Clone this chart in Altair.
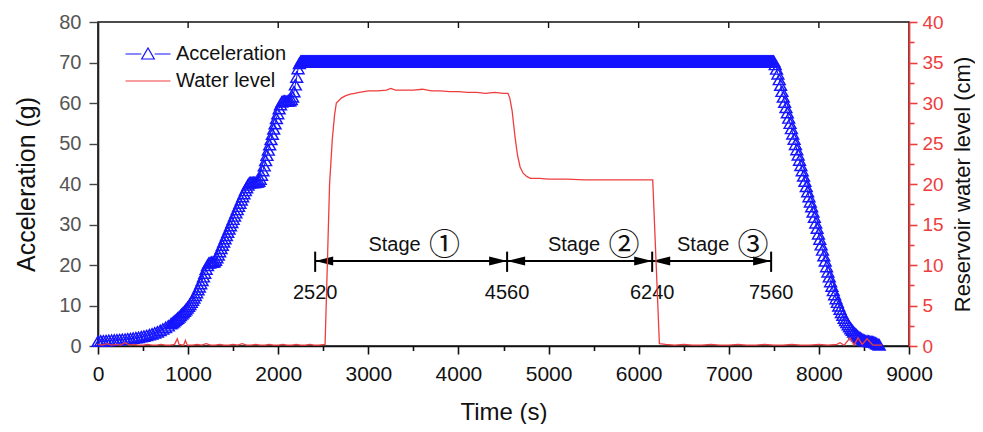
import altair as alt
import pandas as pd

# ---------------- data ----------------
# Acceleration (g), slow start of the spin-up (t, g)
ACC_START = [(0, 1.2), (30, 1.25), (60, 1.3), (90, 1.35), (120, 1.4), (150, 1.45), (180, 1.5),
             (210, 1.55), (240, 1.6), (270, 1.65), (300, 1.7), (330, 1.8), (360, 1.85),
             (390, 1.95), (420, 2.05), (450, 2.15), (480, 2.3), (510, 2.45), (540, 2.6),
             (570, 2.8), (600, 3.0), (630, 3.25), (660, 3.5), (690, 3.85), (720, 4.2),
             (750, 4.6), (780, 5.0), (810, 5.5), (825, 5.75)]
# Acceleration (g), stepped spin-up (t, g)
ACC_RISE = [(840, 6.0), (855, 6.3), (870, 6.6), (885, 6.9), (900, 7.2), (915, 7.55), (930, 7.9),
            (945, 8.25), (960, 8.6), (975, 9.0), (990, 9.4), (1005, 9.85), (1020, 10.3),
            (1035, 10.8), (1050, 11.3), (1065, 11.9), (1080, 12.5), (1095, 13.2), (1110, 13.9),
            (1125, 14.6), (1140, 15.4), (1155, 16.2), (1170, 17.1), (1185, 18.0), (1200, 19.0),
            (1215, 19.9), (1230, 20.5), (1245, 20.6), (1260, 20.7), (1275, 20.7), (1290, 20.8),
            (1305, 21.2), (1320, 21.8), (1335, 22.5), (1350, 23.3), (1365, 24.1), (1380, 24.9),
            (1395, 25.7), (1410, 26.5), (1425, 27.3), (1440, 28.1), (1455, 28.9), (1470, 29.7),
            (1485, 30.5), (1500, 31.3), (1515, 32.1), (1530, 32.9), (1545, 33.7), (1560, 34.5),
            (1575, 35.3), (1590, 36.1), (1605, 36.9), (1620, 37.6), (1635, 38.4), (1650, 39.1),
            (1665, 39.8), (1680, 40.3), (1695, 40.4), (1710, 40.4), (1725, 40.4), (1740, 40.4),
            (1755, 40.5), (1770, 40.5), (1785, 40.7), (1800, 41.2), (1815, 42.2), (1830, 43.3),
            (1845, 44.5), (1860, 45.8), (1875, 47.1), (1890, 48.4), (1905, 49.7), (1920, 51.0),
            (1935, 52.3), (1950, 53.6), (1965, 54.9), (1980, 56.2), (1995, 57.4), (2010, 58.6),
            (2025, 59.6), (2040, 60.3), (2055, 60.5), (2070, 60.5), (2085, 60.5), (2100, 60.5),
            (2115, 60.6), (2130, 60.6), (2145, 60.9), (2160, 61.5), (2175, 62.8), (2190, 64.5),
            (2205, 66.4), (2220, 68.5), (2235, 69.8), (2250, 70.3)]
# Acceleration hold: sample times and the flat level
ACC_HOLD_T = list(range(2255, 7500, 5))
ACC_HOLD_G = 70.3
# Acceleration (g), spin-down (t, g)
ACC_FALL = [(7500, 70.3), (7515, 69.5), (7530, 68.4), (7545, 67.2), (7560, 65.8), (7575, 64.4),
            (7590, 62.9), (7605, 61.5), (7620, 60.2), (7635, 58.9), (7650, 57.6), (7665, 56.3),
            (7680, 55.0), (7695, 53.7), (7710, 52.4), (7725, 51.1), (7740, 49.8), (7755, 48.5),
            (7770, 47.2), (7785, 45.9), (7800, 44.6), (7815, 43.3), (7830, 42.0), (7845, 40.7),
            (7860, 39.4), (7875, 38.1), (7890, 36.9), (7905, 35.6), (7920, 34.4), (7935, 33.1),
            (7950, 31.8), (7965, 30.4), (7980, 29.1), (7995, 27.7), (8010, 26.4), (8025, 25.0),
            (8040, 23.7), (8055, 22.3), (8070, 21.0), (8085, 19.6), (8100, 18.3), (8115, 17.1),
            (8130, 15.9), (8145, 14.8), (8160, 13.7), (8175, 12.7), (8190, 11.7), (8205, 10.8),
            (8220, 9.9), (8235, 9.1), (8250, 8.3), (8265, 7.6), (8280, 6.9), (8295, 6.3),
            (8310, 5.8), (8325, 5.3), (8340, 4.8), (8355, 4.3), (8370, 3.9), (8385, 3.5),
            (8400, 3.1), (8415, 2.8), (8430, 2.5), (8445, 2.2), (8460, 2.0), (8475, 1.8),
            (8490, 1.6), (8505, 1.4), (8520, 1.3), (8535, 1.25), (8550, 1.2), (8565, 1.15),
            (8580, 1.1), (8595, 1.05), (8610, 1.0), (8625, 0.8), (8640, 0.6), (8655, 0.45),
            (8670, 0.3)]

# Reservoir water level (cm)
WL_T = [0, 50, 100, 150, 200, 250, 300, 350, 400, 450, 500, 550, 600, 650, 700, 750, 800, 850,
        880, 900, 950, 970, 990, 1050, 1100, 1150, 1200, 1250, 1300, 1350, 1400, 1450, 1500,
        1550, 1600, 1650, 1700, 1750, 1800, 1850, 1900, 1950, 2000, 2050, 2100, 2150, 2200,
        2250, 2300, 2350, 2400, 2450, 2520, 2545, 2570, 2600, 2625, 2645, 2700, 2750, 2800,
        2850, 2900, 2950, 3000, 3100, 3200, 3250, 3300, 3400, 3500, 3600, 3700, 3800, 3900,
        4000, 4100, 4200, 4300, 4400, 4500, 4550, 4570, 4595, 4628, 4655, 4684, 4720, 4761,
        4800, 4900, 5000, 5200, 5400, 5600, 5800, 6000, 6100, 6156, 6230, 6300, 6400, 6500,
        6600, 6700, 6800, 6900, 7000, 7100, 7200, 7300, 7400, 7500, 7600, 7700, 7800, 7900,
        8000, 8100, 8200, 8235, 8280, 8346, 8390, 8435, 8480, 8535, 8600, 8700]
WL_CM = [0.2, 0.1, 0.3, 0.1, 0.2, 0.1, 0.4, 0.1, 0.2, 0.1, 0.1, 0.2, 0.1, 0.1, 0.2, 0.1, 0.1, 0.2,
         0.9, 0.2, 0.1, 0.7, 0.1, 0.1, 0.2, 0.1, 0.3, 0.1, 0.1, 0.2, 0.1, 0.1, 0.2,
         0.1, 0.3, 0.1, 0.1, 0.2, 0.1, 0.1, 0.2, 0.1, 0.1, 0.2, 0.1, 0.1, 0.2,
         0.1, 0.1, 0.2, 0.1, 0.1, 0.2, 10.0, 20.0, 25.5, 28.5, 30.0, 30.6, 30.9, 31.1,
         31.2, 31.3, 31.4, 31.5, 31.5, 31.6, 31.8, 31.6, 31.6, 31.6, 31.7, 31.5, 31.5, 31.4,
         31.4, 31.3, 31.3, 31.2, 31.3, 31.2, 31.2, 30.6, 29.1, 25.8, 23.6, 22.1, 21.3, 20.9,
         20.7, 20.7, 20.6, 20.6, 20.5, 20.5, 20.5, 20.5, 20.5, 20.5, 0.3, 0.2, 0.1, 0.2,
         0.1, 0.1, 0.2, 0.1, 0.1, 0.2, 0.1, 0.1, 0.2, 0.1, 0.1, 0.2, 0.1, 0.1,
         0.2, 0.1, 0.2, 0.4, 0.1, 1.0, 0.1, 1.0, 0.2, 0.9, 0.1, 0.1]

# Stage annotation
STAGE_BOUND_T = [2410, 4540, 6150, 7470]
STAGE_BOUND_LABELS = ["2520", "4560", "6240", "7560"]
STAGE_TEXT_T = [3502, 5494, 6926]
STAGE_NUMS = ["①", "②", "③"]
ARROW_G = 21.0
BAR_LO_G, BAR_HI_G = 18.3, 23.3
BOUND_LABEL_G = 13.0
STAGE_TEXT_G = 25.0

TOP_TICKS_T = [1000, 2000, 3000, 4000, 5000, 6000, 7000, 8000]
X_TICKS = [0, 500, 1000, 1500, 2000, 2500, 3000, 3500, 4000, 4500, 5000, 5500, 6000, 6500,
           7000, 7500, 8000, 8500, 9000]
ACC_TICKS = [0, 5, 10, 15, 20, 25, 30, 35, 40, 45, 50, 55, 60, 65, 70, 75, 80]
WL_TICKS = [0, 2.5, 5, 7.5, 10, 12.5, 15, 17.5, 20, 22.5, 25, 27.5, 30, 32.5, 35, 37.5, 40]
SERIES = ["Acceleration", "Water level"]

# ---------------- tables ----------------
acc_pairs = ACC_START + ACC_RISE + [(t, ACC_HOLD_G) for t in ACC_HOLD_T] + ACC_FALL
acc_df = pd.DataFrame(acc_pairs, columns=["t", "g"])
wl_df = pd.DataFrame({"t": WL_T, "cm": WL_CM, "series": SERIES[1]})

bounds_df = pd.DataFrame({"t": STAGE_BOUND_T, "lab": STAGE_BOUND_LABELS,
                          "lo": BAR_LO_G, "hi": BAR_HI_G, "g": ARROW_G, "lg": BOUND_LABEL_G})
seg_df = pd.DataFrame({"t": STAGE_BOUND_T[:-1], "t2": STAGE_BOUND_T[1:], "g": ARROW_G})
stage_df = pd.DataFrame({"t": STAGE_TEXT_T, "num": STAGE_NUMS, "g": STAGE_TEXT_G})
top_df = pd.DataFrame({"t": TOP_TICKS_T})

# ---------------- style ----------------
FONT = "Liberation Sans"
BLUE = "#1515ff"
RED = "#ee3d3d"

x_scale = alt.Scale(domain=[0, 9000], nice=False, zero=False)
acc_scale = alt.Scale(domain=[0, 80], nice=False)
wl_scale = alt.Scale(domain=[0, 40], nice=False)
color_scale = alt.Scale(domain=SERIES, range=[BLUE, RED])

x_axis = alt.Axis(
    title="Time (s)", values=X_TICKS, format="d",
    labelExpr="datum.value % 1000 === 0 ? datum.label : ''",
    tickSize={"condition": {"test": "datum.value % 1000 === 0", "value": 8}, "value": 4.5},
    labelFont=FONT, labelFontSize=21, labelColor="#111", labelPadding=9,
    labelFlush=False, labelOverlap=False,
    titleFont=FONT, titleFontSize=24, titleFontWeight="normal", titleColor="#111",
    titleBaseline="middle", titleY=66,
    domainColor="#111", domainWidth=1.6, tickColor="#111", tickWidth=1.6,
)
acc_axis = alt.Axis(
    title="Acceleration (g)", values=ACC_TICKS, format="d",
    labelExpr="datum.value % 10 === 0 ? datum.label : ''",
    tickSize={"condition": {"test": "datum.value % 10 === 0", "value": 9}, "value": 5},
    labelFont=FONT, labelFontSize=20, labelColor="#555", labelPadding=8,
    labelFlush=False, labelOverlap=False,
    titleFont=FONT, titleFontSize=25, titleFontWeight="normal", titleColor="#111",
    titleBaseline="middle", titleX=-72,
    domainColor="#222", domainWidth=1.6, tickColor="#444", tickWidth=1.4,
)
wl_axis = alt.Axis(
    title="Reservoir water level (cm)", orient="right", values=WL_TICKS, format="d",
    labelExpr="datum.value % 5 === 0 ? datum.label : ''",
    tickSize={"condition": {"test": "datum.value % 5 === 0", "value": 8}, "value": 5},
    labelFont=FONT, labelFontSize=19, labelColor=RED, labelPadding=5,
    labelFlush=False, labelOverlap=False,
    titleFont=FONT, titleFontSize=22, titleFontWeight="normal", titleColor="#111",
    titleBaseline="middle", titleX=53, titleAngle=270,
    domainColor=RED, domainWidth=1.8, tickColor=RED, tickWidth=1.6,
)

ACC_SYM = "M-2.25,0L-0.67,0M0.67,0L2.25,0M-0.63,0.5L0.63,0.5L0,-0.6Z"
WL_SYM = "M-2.25,0L2.25,0"
legend = alt.Legend(
    title=None, orient="none", legendX=39, legendY=21,
    labelFont=FONT, labelFontSize=20, labelColor="#111", labelOffset=17,
    symbolSize=400, symbolStrokeWidth=1.2, rowPadding=6,
    symbolFillColor="transparent", symbolOpacity=1,
    symbolType={"expr": f"datum.value === '{SERIES[0]}' ? '{ACC_SYM}' : '{WL_SYM}'"},
)

# ---------------- layers ----------------
acc_line = alt.Chart(acc_df).mark_line(color=BLUE, strokeWidth=1).encode(
    x=alt.X("t:Q", scale=x_scale, axis=x_axis),
    y=alt.Y("g:Q", scale=acc_scale, axis=acc_axis),
)
acc_pts = alt.Chart(acc_df).mark_point(
    shape="triangle-up", filled=False, size=140, strokeWidth=1.45, opacity=1, color=BLUE
).encode(x="t:Q", y="g:Q")

top_ticks = alt.Chart(top_df).mark_rule(color="#111", strokeWidth=1.4).encode(
    x="t:Q", y=alt.value(0), y2=alt.value(6)
)
bars = alt.Chart(bounds_df).mark_rule(color="black", strokeWidth=2).encode(
    x="t:Q", y=alt.Y("lo:Q"), y2="hi:Q"
)
arrows = alt.Chart(seg_df).mark_rule(color="black", strokeWidth=2).encode(
    x="t:Q", x2="t2:Q", y="g:Q"
)
LEFT_HEAD = "M0,0L1,-0.25L1,0.25Z"
RIGHT_HEAD = "M0,0L-1,-0.25L-1,0.25Z"
heads_left = alt.Chart(seg_df).mark_point(
    shape=LEFT_HEAD, filled=True, size=1296, color="black", opacity=1, strokeWidth=0
).encode(x="t:Q", y="g:Q")
heads_right = alt.Chart(seg_df).mark_point(
    shape=RIGHT_HEAD, filled=True, size=1296, color="black", opacity=1, strokeWidth=0
).encode(x="t2:Q", y="g:Q")
bound_labels = alt.Chart(bounds_df).mark_text(
    font=FONT, fontSize=20, color="#111", baseline="middle", align="center"
).encode(x="t:Q", y="lg:Q", text="lab:N")
stage_words = alt.Chart(stage_df).mark_text(
    font=FONT, fontSize=20, color="#111", baseline="middle", align="center", dx=-19
).encode(x="t:Q", y="g:Q", text=alt.value("Stage"))
stage_nums = alt.Chart(stage_df).mark_text(
    font="Noto Sans CJK SC", fontSize=31, color="#111", baseline="middle", align="center", dx=31, dy=1
).encode(x="t:Q", y="g:Q", text="num:N")

acc_group = alt.layer(acc_line, acc_pts, top_ticks, bars, arrows, heads_left, heads_right,
                      bound_labels, stage_words, stage_nums)

water = alt.Chart(wl_df).mark_line(strokeWidth=1.3).encode(
    x="t:Q",
    y=alt.Y("cm:Q", scale=wl_scale, axis=wl_axis),
    color=alt.Color("series:N", scale=color_scale, legend=legend),
)

chart = alt.layer(acc_group, water).resolve_scale(y="independent").properties(
    width=811, height=324,
    autosize=alt.AutoSizeParams(type="none"),
    padding={"left": 90, "top": 14, "right": 66, "bottom": 78},
).configure_axis(grid=False).configure_view(stroke="#111", strokeWidth=1.6)

chart.save("out.html", embed_options={"renderer": "svg", "actions": False})
